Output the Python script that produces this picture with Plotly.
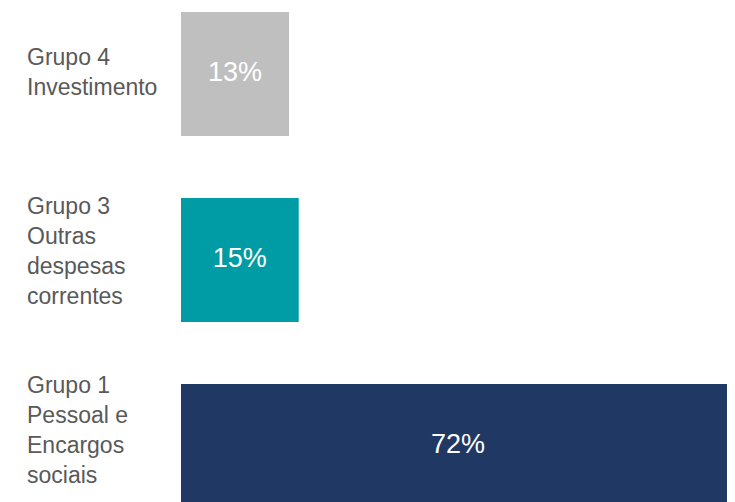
import plotly.graph_objects as go

# Data (bottom to top)
cat_ids = ["Grupo 1", "Grupo 3", "Grupo 4"]
cat_labels = ["Grupo 1<br>Pessoal e<br>Encargos<br>sociais",
              "Grupo 3<br>Outras<br>despesas<br>correntes",
              "Grupo 4<br>Investimento"]
values = [72.0, 14.6, 13.4]
value_labels = ["72%", "15%", "13%"]

# Styles
bar_colors = ["#203864", "#009CA5", "#BFBFBF"]
label_yshift = [16, 9, 2]
x_max = 70.7          # axis range (plot area runs past the window edge)
x_visible = 68.7      # part of the axis visible in the window

fig = go.Figure()
fig.add_trace(go.Bar(
    x=values, y=cat_ids, orientation="h",
    marker=dict(color=bar_colors, line=dict(width=0)),
    cliponaxis=True,
    hoverinfo="skip",
))
# value labels centred on the visible part of each bar
fig.add_trace(go.Scatter(
    x=[min(v, x_visible) / 2 for v in values], y=cat_ids,
    mode="text", text=value_labels, textposition="middle center",
    textfont=dict(family="Liberation Sans, Arial, sans-serif", size=27, color="#FFFFFF"),
    cliponaxis=False, hoverinfo="skip",
))

for cid, lab, ys in zip(cat_ids, cat_labels, label_yshift):
    fig.add_annotation(
        x=0, xref="paper", xshift=-156, xanchor="left",
        y=cid, yref="y", yanchor="middle", yshift=ys,
        text=lab, align="left", showarrow=False,
        font=dict(family="Liberation Sans, Arial, sans-serif", size=23, color="#595959"),
    )

fig.update_layout(
    width=743, height=494,
    margin=dict(l=173, r=0, t=0, b=0),
    paper_bgcolor="white", plot_bgcolor="white",
    bargap=0.333,
    showlegend=False,
    xaxis=dict(range=[0, x_max], visible=False, fixedrange=True),
    yaxis=dict(type="category", categoryorder="array", categoryarray=cat_ids,
               range=[-0.301, 2.355], showticklabels=False, showgrid=False,
               zeroline=False, showline=False, fixedrange=True),
)

fig.write_html("out.html")
